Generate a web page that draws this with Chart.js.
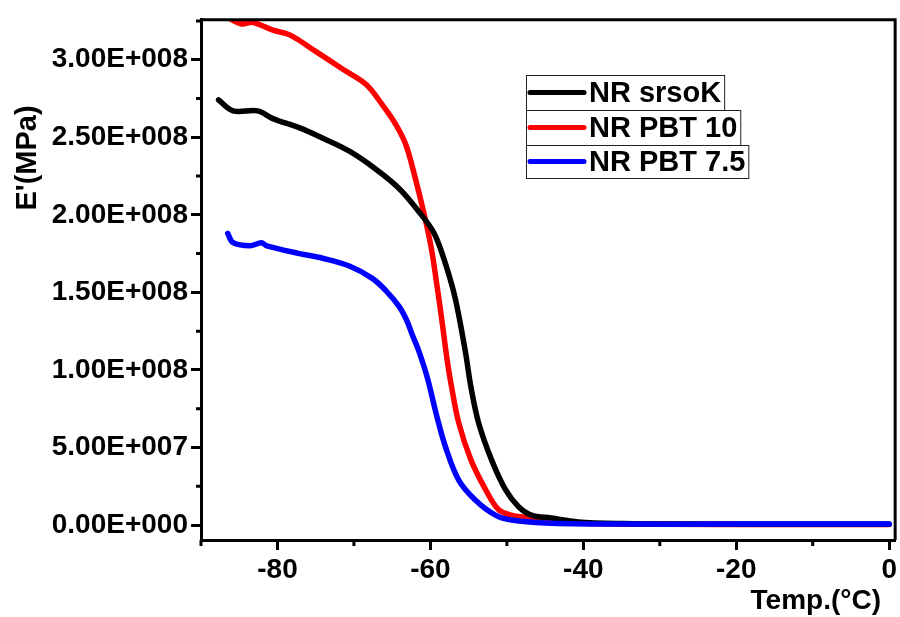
<!DOCTYPE html>
<html lang="en">
<head>
    <meta charset="UTF-8">
    <meta name="viewport" content="width=device-width, initial-scale=1.0">
    <title>E' vs Temp</title>
    <script src="https://cdn.jsdelivr.net/npm/chart.js"></script>
    <style>
        body {
            margin: 0;
            padding: 0;
            background-color: white;
        }
        .chart-container {
            position: relative;
            width: 900px;
            height: 617px;
        }
    </style>
</head>
<body>
    <div class="chart-container">
        <canvas id="dmaChart"></canvas>
    </div>

    <script>
        // data (temperature in °C, E' in MPa)
        const tempSrsoK = [-87.7, -85.8, -82.6, -80.6, -77.1, -73.9, -70.6, -67.3, -64.1, -61.5, -59.5, -58.0, -56.7, -55.4, -54.7, -53.7, -52.0, -50.2, -48.5, -46.8, -44.2, -40.7, -35, -25, -10, 0];
        const eSrsoK = [2.74e8, 2.67e8, 2.67e8, 2.62e8, 2.56e8, 2.49e8, 2.41e8, 2.30e8, 2.17e8, 2.02e8, 1.88e8, 1.68e8, 1.45e8, 1.11e8, 0.89e8, 0.66e8, 0.42e8, 0.23e8, 0.12e8, 0.064e8, 0.045e8, 0.02e8, 0.01e8, 0.006e8, 0.005e8, 0.005e8];

        const tempPbt10 = [-86.5, -84.7, -83.2, -80.6, -78.4, -74.9, -71.5, -68.4, -66.3, -64.5, -63.2, -62.1, -60.8, -59.9, -59.1, -58.5, -57.8, -57.3, -56.3, -54.7, -52.8, -51.1, -49.4, -46.8, -40.7, -30, -15, 0];
        const ePbt10 = [3.27e8, 3.23e8, 3.24e8, 3.19e8, 3.16e8, 3.05e8, 2.94e8, 2.84e8, 2.71e8, 2.58e8, 2.45e8, 2.26e8, 2.00e8, 1.79e8, 1.53e8, 1.32e8, 1.06e8, 0.91e8, 0.66e8, 0.42e8, 0.23e8, 0.10e8, 0.064e8, 0.045e8, 0.013e8, 0.005e8, 0.003e8, 0.003e8];

        const tempPbt75 = [-86.5, -85.8, -83.6, -82.1, -81.4, -77.1, -74.1, -70.6, -67.6, -65.8, -64.1, -63.1, -62.4, -61.5, -60.4, -59.1, -58.0, -56.3, -54.1, -51.5, -49.4, -45.0, -35, -20, 0];
        const ePbt75 = [1.88e8, 1.82e8, 1.80e8, 1.82e8, 1.80e8, 1.75e8, 1.72e8, 1.67e8, 1.59e8, 1.51e8, 1.41e8, 1.32e8, 1.23e8, 1.12e8, 0.95e8, 0.69e8, 0.50e8, 0.29e8, 0.16e8, 0.064e8, 0.032e8, 0.013e8, 0.006e8, 0.006e8, 0.006e8];

        const seriesNames = ['NR srsoK', 'NR PBT 10', 'NR PBT 7.5'];
        const seriesColors = ['#000000', '#ff0000', '#0000ff'];

        const xMajorTicks = [-80, -60, -40, -20, 0];
        const xMinorTicks = [-90, -70, -50, -30, -10];
        const yMajorTicks = [0, 5e7, 1e8, 1.5e8, 2e8, 2.5e8, 3e8];
        const yMinorTicks = [2.5e7, 7.5e7, 1.25e8, 1.75e8, 2.25e8, 2.75e8, 3.25e8];

        const FONT = '"Liberation Sans", Arial, sans-serif';

        const toPoints = (xs, ys) => xs.map((t, i) => ({ x: t, y: ys[i] }));

        function sciLabel(v) {
            if (v === 0) return '0.00E+000';
            const exp = Math.floor(Math.log10(Math.abs(v)));
            const mant = (v / Math.pow(10, exp)).toFixed(2);
            return mant + 'E+' + String(exp).padStart(3, '0');
        }

        // frame, minor ticks, axis titles and the boxed legend
        const decorPlugin = {
            id: 'decor',
            afterDraw(chart) {
                const { ctx, chartArea: a, scales } = chart;
                ctx.save();
                ctx.strokeStyle = '#000';
                ctx.lineWidth = 3;
                ctx.beginPath();
                ctx.moveTo(a.left, a.top);
                ctx.lineTo(a.right, a.top);
                ctx.lineTo(a.right, a.bottom);
                ctx.stroke();

                ctx.beginPath();
                xMinorTicks.forEach(v => {
                    const px = scales.x.getPixelForValue(v);
                    ctx.moveTo(px, a.bottom);
                    ctx.lineTo(px, a.bottom + 6);
                });
                yMinorTicks.forEach(v => {
                    const py = scales.y.getPixelForValue(v);
                    ctx.moveTo(a.left, py);
                    ctx.lineTo(a.left - 5, py);
                });
                ctx.stroke();

                ctx.fillStyle = '#000';
                ctx.font = 'bold 28px ' + FONT;
                ctx.textAlign = 'right';
                ctx.textBaseline = 'middle';
                ctx.fillText('Temp.(°C)', 881, 601);

                ctx.save();
                ctx.translate(28, 158);
                ctx.rotate(-Math.PI / 2);
                ctx.textAlign = 'center';
                ctx.font = 'bold 29px ' + FONT;
                ctx.fillText("E'(MPa)", 0, 0);
                ctx.restore();

                // legend
                const rowTop = [75, 110, 145];
                const rowH = [35, 35, 33];
                ctx.font = 'bold 29px ' + FONT;
                ctx.textAlign = 'left';
                seriesNames.forEach((name, i) => {
                    const w = ctx.measureText(name).width;
                    const y0 = rowTop[i];
                    const yc = y0 + rowH[i] / 2;
                    ctx.strokeStyle = '#222';
                    ctx.lineWidth = 1;
                    ctx.strokeRect(526.5, y0 + 0.5, 590 + w + 2 - 526, rowH[i]);
                    ctx.strokeStyle = seriesColors[i];
                    ctx.lineWidth = 5;
                    ctx.lineCap = 'round';
                    ctx.beginPath();
                    ctx.moveTo(530, yc);
                    ctx.lineTo(584, yc);
                    ctx.stroke();
                    ctx.fillStyle = '#000';
                    ctx.fillText(name, 589, yc + 1);
                });
                ctx.restore();
            }
        };

        const ctx = document.getElementById('dmaChart').getContext('2d');
        new Chart(ctx, {
            type: 'line',
            data: {
                datasets: [
                    {
                        label: seriesNames[0],
                        data: toPoints(tempSrsoK, eSrsoK),
                        borderColor: seriesColors[0],
                        order: 1
                    },
                    {
                        label: seriesNames[1],
                        data: toPoints(tempPbt10, ePbt10),
                        borderColor: seriesColors[1],
                        order: 2
                    },
                    {
                        label: seriesNames[2],
                        data: toPoints(tempPbt75, ePbt75),
                        borderColor: seriesColors[2],
                        order: 0
                    }
                ]
            },
            options: {
                responsive: true,
                maintainAspectRatio: false,
                animation: false,
                layout: { padding: { top: 18, right: 2, left: 0, bottom: 0 } },
                elements: {
                    point: { radius: 0 },
                    line: { borderWidth: 5.5, tension: 0.35, borderCapStyle: 'round', borderJoinStyle: 'round' }
                },
                plugins: {
                    legend: { display: false },
                    tooltip: { enabled: false }
                },
                scales: {
                    x: {
                        type: 'linear',
                        min: -90,
                        max: 0.78,
                        afterBuildTicks: s => { s.ticks = xMajorTicks.map(v => ({ value: v })); },
                        afterFit: s => { s.height = 77; },
                        grid: { drawOnChartArea: false, tickLength: 10, tickWidth: 3, tickColor: '#000' },
                        border: { color: '#000', width: 3 },
                        ticks: {
                            color: '#000',
                            padding: 3,
                            maxRotation: 0,
                            font: { family: FONT, size: 28, weight: 'bold' },
                            callback: v => String(v)
                        }
                    },
                    y: {
                        type: 'linear',
                        min: -9.64e6,
                        max: 3.257e8,
                        afterBuildTicks: s => { s.ticks = yMajorTicks.map(v => ({ value: v })); },
                        afterFit: s => { s.width = 201; },
                        grid: { drawOnChartArea: false, tickLength: 10, tickWidth: 3, tickColor: '#000' },
                        border: { color: '#000', width: 3 },
                        ticks: {
                            color: '#000',
                            padding: 3,
                            font: { family: FONT, size: 28, weight: 'bold' },
                            callback: v => sciLabel(v)
                        }
                    }
                }
            },
            plugins: [decorPlugin]
        });
    </script>
</body>
</html>
